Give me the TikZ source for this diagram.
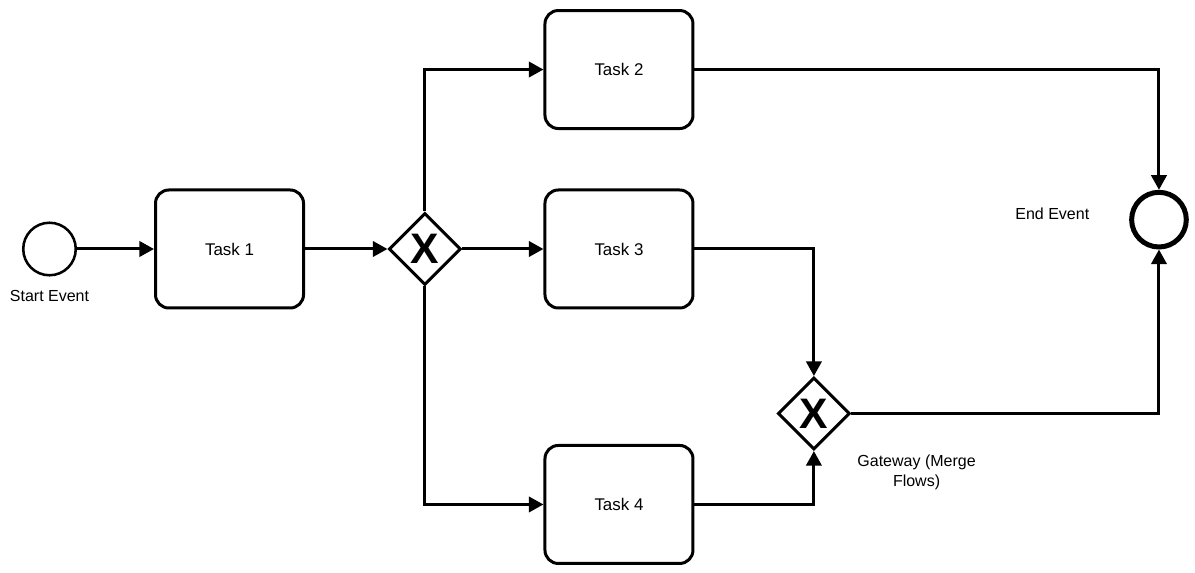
\documentclass[tikz,border=0pt]{standalone}
\usepackage{fontspec}
\setmainfont{Liberation Sans}
\usetikzlibrary{arrows.meta,calc,positioning,shapes.geometric}
\tikzset{%
	task/.style     = {draw, rectangle, rounded corners=10pt, line width=2.25pt, minimum width=111pt, minimum height=88.5pt, text centered, font=\fontsize{12.7}{15}\selectfont},
	gateway/.style  = {draw, diamond, line width=2.25pt, minimum size=54pt, inner sep=0pt, font=\fontsize{32}{32}\selectfont\bfseries}, % Exclusive gateway
	startevent/.style = {draw, circle, line width=1.9pt, minimum size=39.4pt, inner sep=0pt}, % Start
	endevent/.style = {draw, circle, line width=3.75pt, minimum size=41pt, inner sep=0pt}, % End
	caption/.style  = {align=center, inner sep=0pt, font=\fontsize{12}{15}\selectfont},
	waypoint/.style = {coordinate},
	arrow/.style    = {line width=2.25pt, -{Triangle[length=11pt,width=11.5pt]}},
}
\begin{document}
\begin{tikzpicture}[x=0.75pt,y=-0.75pt]
	\useasboundingbox (0,0) rectangle (1195,573);
	\node [startevent] (start) at (49.5,249) {};
	\node [task] (task1) [right of=start,node distance=135pt] {Task 1};
	\node [gateway] (gw1) [right of=task1,node distance=146.6pt] {X};
	\node [task] (task3) [right of=gw1,node distance=145.5pt] {Task 3};
	\node [task] (task2) [above of=task3,node distance=134.6pt] {Task 2};
	\node [task] (task4) [below of=task3,node distance=191.6pt] {Task 4};
	\node [waypoint] (wp) [right of=task4,node distance=146.2pt] {};
	\node [gateway] (gw2) [above of=wp,node distance=68.2pt] {X};
	\node [endevent] (end) at ($(task3)+(405pt,22pt)$) {};

	\node [caption] (startlbl) [below of=start,node distance=35pt] {Start Event};
	\node [caption] (endlbl) at ($(end)+(-80pt,4.5pt)$) {End Event};
	\node [caption] (gwlbl) at ($(gw2)+(77pt,-44pt)$) {Gateway (Merge\\Flows)};

	\draw[arrow] (start) -- (task1);
	\draw[arrow] (task1) -- (gw1);
	\draw[arrow] (gw1.north) |- (task2);
	\draw[arrow] (gw1) -- (task3);
	\draw[arrow] (gw1.south) |- (task4);
	\draw[arrow] (task2) -| (end);
	\draw[arrow] (task3) -| (gw2);
	\draw[arrow] (task4) -| (gw2);
	\draw[arrow] (gw2) -| (end);
\end{tikzpicture}
\end{document}
